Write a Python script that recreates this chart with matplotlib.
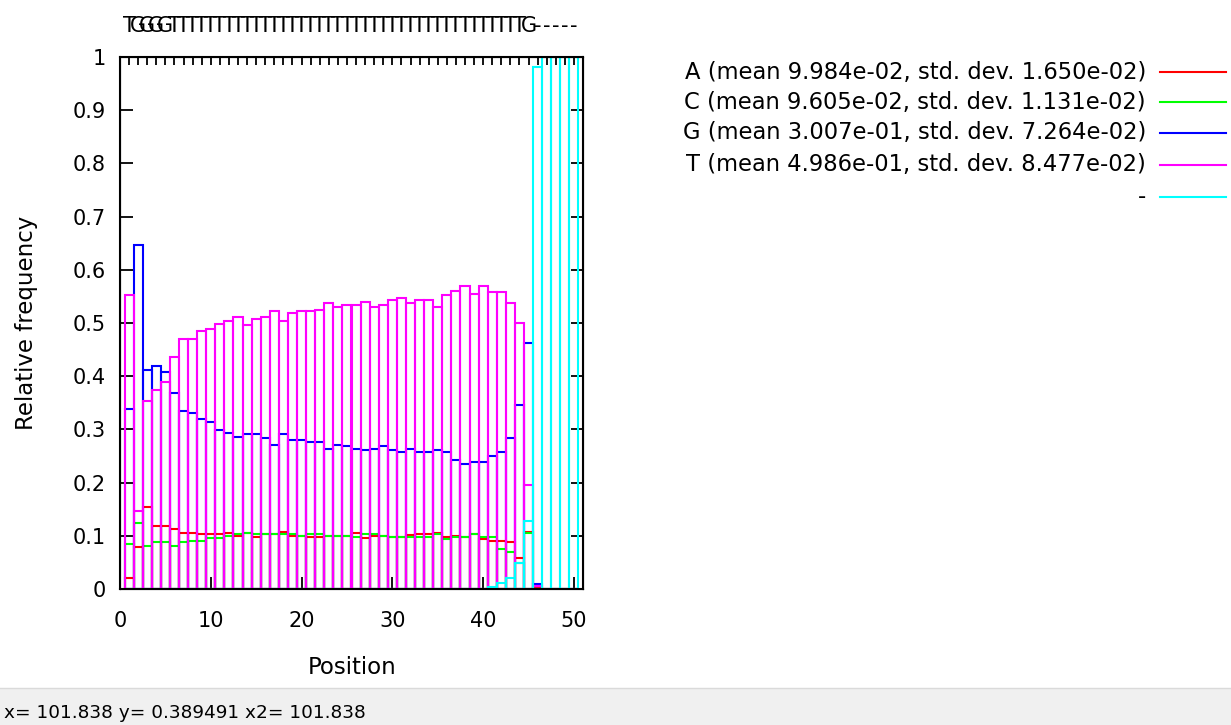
import matplotlib
matplotlib.use("Agg")
import matplotlib.pyplot as plt
from matplotlib.lines import Line2D
from matplotlib.patches import Rectangle
import numpy as np

plt.rcParams['font.family'] = ['DejaVu Sans']

# per-position base composition (positions 1..50)
positions = np.arange(1, 51)

freq_a = [0.021, 0.079, 0.154, 0.118, 0.118, 0.113, 0.106, 0.106, 0.103, 0.103,
          0.103, 0.106, 0.100, 0.106, 0.098, 0.103, 0.104, 0.107, 0.100, 0.100,
          0.098, 0.098, 0.100, 0.100, 0.100, 0.105, 0.096, 0.100, 0.100, 0.098,
          0.098, 0.101, 0.103, 0.103, 0.106, 0.097, 0.100, 0.098, 0.103, 0.094,
          0.090, 0.091, 0.088, 0.058, 0.108, 0.002, 0.0, 0.0, 0.0, 0.0]
freq_c = [0.084, 0.125, 0.081, 0.088, 0.088, 0.081, 0.088, 0.091, 0.091, 0.096,
          0.096, 0.099, 0.103, 0.106, 0.103, 0.103, 0.103, 0.103, 0.103, 0.100,
          0.103, 0.103, 0.100, 0.100, 0.100, 0.098, 0.103, 0.103, 0.099, 0.098,
          0.098, 0.098, 0.097, 0.097, 0.103, 0.094, 0.097, 0.097, 0.103, 0.097,
          0.097, 0.076, 0.069, 0.048, 0.106, 0.0, 0.0, 0.0, 0.0, 0.0]
freq_g = [0.338, 0.647, 0.412, 0.420, 0.408, 0.368, 0.334, 0.331, 0.320, 0.313,
          0.298, 0.294, 0.286, 0.291, 0.291, 0.283, 0.271, 0.291, 0.280, 0.280,
          0.276, 0.276, 0.264, 0.271, 0.268, 0.264, 0.261, 0.264, 0.268, 0.261,
          0.257, 0.264, 0.257, 0.257, 0.261, 0.257, 0.242, 0.235, 0.239, 0.239,
          0.250, 0.257, 0.283, 0.346, 0.463, 0.010, 0.0, 0.0, 0.0, 0.0]
freq_t = [0.552, 0.146, 0.353, 0.375, 0.389, 0.437, 0.470, 0.470, 0.485, 0.489,
          0.499, 0.503, 0.511, 0.497, 0.508, 0.511, 0.522, 0.503, 0.518, 0.522,
          0.522, 0.525, 0.537, 0.530, 0.533, 0.533, 0.540, 0.530, 0.533, 0.543,
          0.547, 0.537, 0.543, 0.543, 0.530, 0.552, 0.561, 0.570, 0.555, 0.570,
          0.559, 0.559, 0.537, 0.500, 0.195, 0.006, 0.0, 0.0, 0.0, 0.0]
freq_gap = [0.0] * 40 + [0.004, 0.011, 0.021, 0.048, 0.128,
                         0.982, 1.0, 1.0, 1.0, 1.0]

consensus = "TGGGGTTTTTTTTTTTTTTTTTTTTTTTTTTTTTTTTTTTTTTTG-----"

series_labels = [
    "A (mean 9.984e-02, std. dev. 1.650e-02)",
    "C (mean 9.605e-02, std. dev. 1.131e-02)",
    "G (mean 3.007e-01, std. dev. 7.264e-02)",
    "T (mean 4.986e-01, std. dev. 8.477e-02)",
    "-",
]
series_colors = ["#ff0000", "#00ff00", "#0000ff", "#ff00ff", "#00ffff"]

W, H = 1231, 725
fig = plt.figure(figsize=(W / 100, H / 100), dpi=100)
fig.patch.set_facecolor("white")

x0, x1, y0, y1 = 120, 583, 57, 589
ax = fig.add_axes([x0 / W, 1 - y1 / H, (x1 - x0) / W, (y1 - y0) / H])

for vals, col in zip([freq_a, freq_c, freq_g, freq_t, freq_gap], series_colors):
    ax.bar(positions, vals, width=1.0, fill=False, edgecolor=col,
           linewidth=1.5, zorder=2)

tick_fs = 15
label_fs = 16.5
key_fs = 16.3

ax.set_xlim(0, 51)
ax.set_ylim(0, 1)
ax.set_xticks(np.arange(0, 51, 10))
ax.set_yticks(np.arange(0, 1.01, 0.1))
ax.set_yticklabels(["0"] + ["%.1f" % v for v in np.arange(0.1, 0.95, 0.1)] + ["1"])
ax.tick_params(direction="in", length=9, width=1.3, top=False, right=True,
               labelsize=tick_fs, colors="black")
ax.tick_params(axis="x", pad=16)
ax.tick_params(axis="y", pad=10)
for s in ax.spines.values():
    s.set_linewidth(1.5)
    s.set_zorder(5)

ax.set_xlabel("Position", fontsize=label_fs, va="center")
ax.xaxis.set_label_coords(0.501, -0.147)
ax.set_ylabel("Relative frequency", fontsize=label_fs, va="center")
ax.yaxis.set_label_coords(-0.201, 0.5)

# consensus base on the top axis
top = ax.twiny()
top.set_xlim(ax.get_xlim())
top.set_xticks(positions)
top.set_xticklabels(list(consensus))
top.tick_params(direction="in", length=6, width=1.3, labelsize=tick_fs, pad=15)

# key at the right
row_y = [72, 102, 133, 165, 197]
for lab, col, yy in zip(series_labels, series_colors, row_y):
    fig.text(1146 / W, 1 - yy / H, lab, ha="right", va="center", fontsize=key_fs)
    fig.add_artist(Line2D([1160 / W, 1226 / W], [1 - yy / H, 1 - yy / H],
                          color=col, linewidth=1.5, transform=fig.transFigure))

# status bar
fig.add_artist(Rectangle((0, 0), 1, 37 / H, transform=fig.transFigure,
                         facecolor="#f0f0f0", edgecolor="none"))
fig.add_artist(Line2D([0, 1], [37 / H, 37 / H], color="#dadada", linewidth=1,
                      transform=fig.transFigure))
fig.text(4 / W, 1 - 713 / H, "x= 101.838 y= 0.389491 x2= 101.838",
         ha="left", va="center", fontsize=13.3)

fig.savefig("out.png", dpi=100)
